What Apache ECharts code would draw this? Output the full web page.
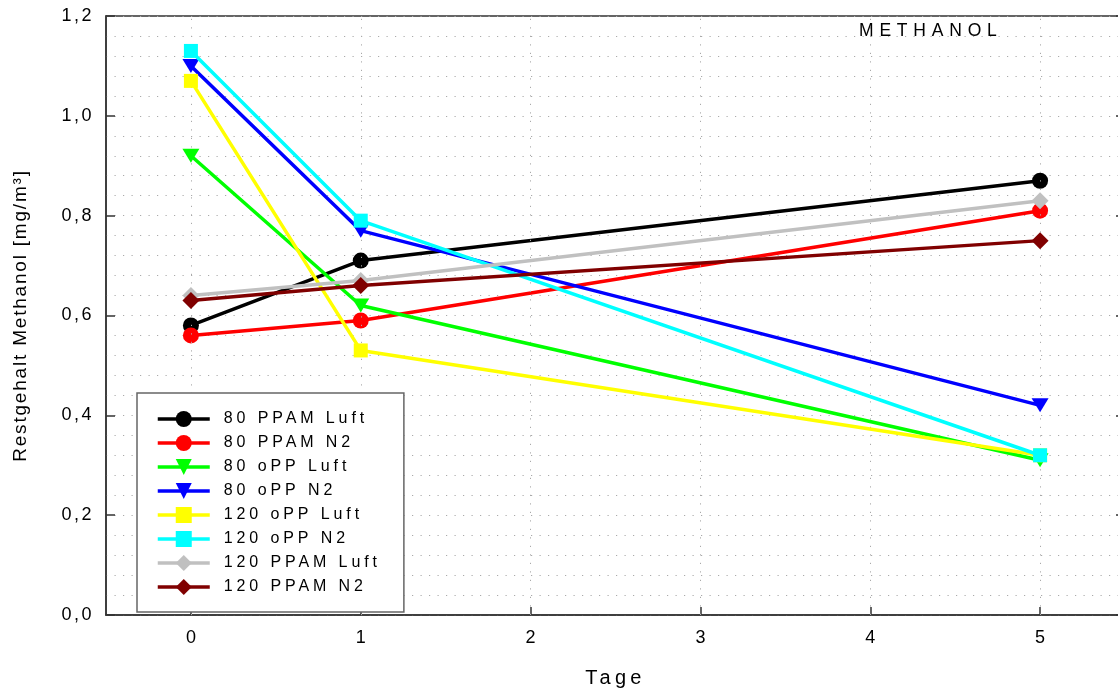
<!DOCTYPE html>
<html>
<head>
<meta charset="utf-8">
<script src="https://cdn.jsdelivr.net/npm/echarts@6/dist/echarts.min.js"></script>
<style>
html,body{margin:0;padding:0;background:#fff;}
#c{width:1118px;height:691px;}
</style>
</head>
<body>
<div id="c"></div>
<script>
// letter spacing support: font family token "lsNN" => NN/10 px spacing
(function(){
  var P = CanvasRenderingContext2D.prototype;
  function ap(ctx){ var m = /ls(\d+)/.exec(ctx.font || ''); try { ctx.letterSpacing = m ? (m[1]/10) + 'px' : '0px'; } catch(e){} }
  var f = P.fillText, s = P.strokeText, me = P.measureText;
  P.fillText = function(){ ap(this); return f.apply(this, arguments); };
  P.strokeText = function(){ ap(this); return s.apply(this, arguments); };
  P.measureText = function(){ ap(this); return me.apply(this, arguments); };
})();

// ---- data ----
const days = [0, 1, 5];
const xTicks = [0, 1, 2, 3, 4, 5];
const seriesNames = ['80 PPAM Luft', '80 PPAM N2', '80 oPP Luft', '80 oPP N2', '120 oPP Luft', '120 oPP N2', '120 PPAM Luft', '120 PPAM N2'];
const ppam80Luft = [0.58, 0.71, 0.87];
const ppam80N2 = [0.56, 0.59, 0.81];
const opp80Luft = [0.92, 0.62, 0.31];
const opp80N2 = [1.10, 0.77, 0.42];
const opp120Luft = [1.07, 0.53, 0.32];
const opp120N2 = [1.13, 0.79, 0.32];
const ppam120Luft = [0.64, 0.67, 0.83];
const ppam120N2 = [0.63, 0.66, 0.75];
const titleText = 'METHANOL';
const xName = 'Tage';
const yName = 'Restgehalt Methanol [mg/m³]';

const values = [ppam80Luft, ppam80N2, opp80Luft, opp80N2, opp120Luft, opp120N2, ppam120Luft, ppam120N2];
const colors = ['#000000', '#ff0000', '#00ff00', '#0000ff', '#ffff00', '#00ffff', '#c0c0c0', '#800000'];
const symbols = ['circle', 'circle', 'triangle', 'triangle', 'rect', 'rect', 'diamond', 'diamond'];
const symSizes = [16, 16, [17, 14], [17, 14], 14, 14, [17, 17], [17, 17]];
const symRot = [0, 0, 180, 180, 0, 0, 0, 0];

const FONT = 'Liberation Sans';
const TXT = '#000';
const dotted = { type: [1.2, 7.3], color: '#aaaaaa', width: 1 };

const series = values.map(function(v, i){
  return {
    name: seriesNames[i],
    type: 'line',
    data: days.map(function(d, j){ return [d, v[j]]; }),
    symbol: symbols[i],
    symbolSize: symSizes[i],
    symbolRotate: symRot[i],
    showAllSymbol: true,
    lineStyle: { color: colors[i], width: 3.5 },
    itemStyle: { color: colors[i] },
    z: 3 + i,
    animation: false
  };
});
series.unshift({
  name: '_grid',
  type: 'line',
  data: [],
  z: 1,
  silent: true,
  markLine: {
    silent: true,
    symbol: 'none',
    animation: false,
    label: { show: false },
    lineStyle: dotted,
    data: xTicks.map(function(t){ return { xAxis: t }; })
  }
});

const chart = echarts.init(document.getElementById('c'), null, { renderer: 'canvas' });
chart.setOption({
  animation: false,
  backgroundColor: '#ffffff',
  title: {
    text: titleText,
    left: 859,
    top: 19,
    padding: 0,
    textStyle: { fontFamily: FONT + ', ls58', fontSize: 17.5, fontWeight: 'normal', color: TXT }
  },
  grid: { left: 106, top: 16, width: 1019, height: 599, outerBoundsMode: 'none', containLabel: false, show: true, borderColor: '#333', borderWidth: 1.5, backgroundColor: 'transparent' },
  legend: {
    data: seriesNames,
    orient: 'vertical',
    left: 137,
    top: 393,
    padding: [16, 23, 15, 19],
    itemWidth: 52,
    itemHeight: 20,
    itemGap: 4,
    backgroundColor: '#ffffff',
    borderColor: '#666',
    borderWidth: 1.5,
    borderRadius: 0,
    lineStyle: { width: 3.5 },
    textStyle: { fontFamily: FONT + ', ls39', fontSize: 16, lineHeight: 20, color: TXT, padding: [0, 0, 0, 9] },
    z: 20
  },
  xAxis: {
    type: 'value',
    min: -0.5,
    max: 5.5,
    interval: 0.5,
    name: xName,
    nameLocation: 'middle',
    nameGap: 51,
    nameTextStyle: { fontFamily: FONT + ', ls43', fontSize: 20, color: TXT },
    axisLine: { show: true, onZero: false, lineStyle: { color: '#333', width: 1.5 } },
    axisTick: { show: true, inside: true, length: 8, customValues: xTicks, lineStyle: { color: '#333', width: 1.5 } },
    axisLabel: { customValues: xTicks, margin: 14, fontFamily: FONT, fontSize: 18, color: TXT,
      formatter: function(v){ return Number.isInteger(v) ? String(v) : ''; } },
    splitLine: { show: false }
  },
  yAxis: [{
    type: 'value',
    min: 0,
    max: 1.2,
    interval: 0.2,
    name: yName,
    nameLocation: 'middle',
    nameRotate: 90,
    nameGap: 75,
    nameTextStyle: { fontFamily: FONT + ', ls18', fontSize: 19, color: TXT },
    axisLine: { show: true, onZero: false, lineStyle: { color: '#333', width: 1.5 } },
    axisTick: { show: true, inside: true, length: 9, lineStyle: { color: '#333', width: 1.5 } },
    axisLabel: { margin: 12, fontFamily: FONT + ', ls25', fontSize: 18, color: TXT,
      formatter: function(v){ return v.toFixed(1).replace('.', ','); } },
    splitLine: { show: true, lineStyle: dotted },
    minorTick: { show: false, splitNumber: 5 },
    minorSplitLine: { show: true, lineStyle: dotted }
  }, {
    type: 'value',
    min: 0,
    max: 1.2,
    interval: 0.2,
    position: 'right',
    axisLine: { show: true, onZero: false, lineStyle: { color: '#333', width: 1.5 } },
    axisTick: { show: true, inside: true, length: 9, lineStyle: { color: '#333', width: 1.5 } },
    axisLabel: { show: false },
    splitLine: { show: false }
  }],
  series: series
});
</script>
</body>
</html>
